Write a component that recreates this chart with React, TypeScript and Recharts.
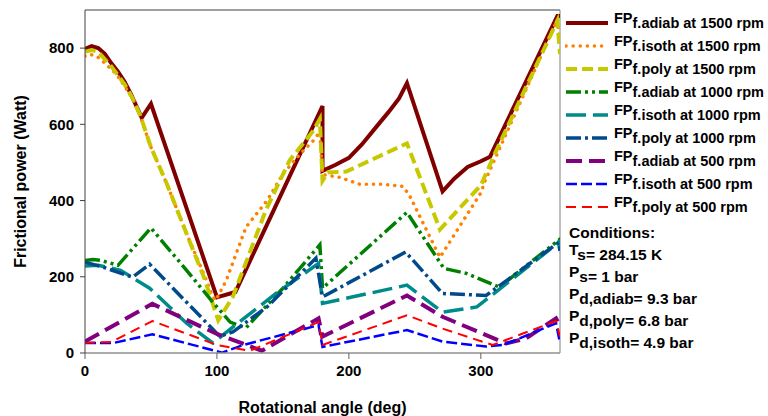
import React from "react";
import { LineChart, Line, XAxis, YAxis, ReferenceLine, Label } from "recharts";

const xTicks = [0, 100, 200, 300];
const yTicks = [0, 200, 400, 600, 800];

// 1500 rpm
const adiab1500Angle = [0, 5, 10, 15, 20, 25, 30, 35, 40, 43, 50, 100, 114, 180, 180, 190, 200, 210, 220, 230, 238, 244, 271, 280, 290, 300, 307, 358, 360];
const adiab1500Power = [798, 805, 800, 785, 760, 738, 712, 678, 640, 617, 654, 146, 160, 648, 478, 494, 512, 548, 590, 632, 668, 708, 424, 458, 488, 503, 515, 884, 884];

const isoth1500Angle = [0, 4, 11, 24, 36, 42, 49, 62, 77, 90, 97, 99, 107, 122, 138, 150, 163, 173, 178, 180, 193, 208, 226, 241, 246, 269, 300, 303, 358, 360];
const isoth1500Power = [779, 784, 774, 731, 669, 622, 548, 444, 313, 208, 147, 138, 190, 330, 400, 470, 522, 557, 580, 468, 461, 443, 443, 437, 413, 251, 420, 450, 875, 800];

const poly1500Angle = [0, 5, 10, 20, 30, 36, 42, 50, 62, 77, 90, 101, 112, 137, 155, 173, 178, 180, 184, 198, 244, 269, 300, 311, 358, 360];
const poly1500Power = [790, 795, 790, 752, 705, 669, 622, 540, 444, 313, 200, 86, 147, 374, 505, 583, 614, 452, 474, 476, 550, 324, 440, 526, 872, 784];

// 1000 rpm
const adiab1000Angle = [0, 6, 12, 25, 50, 77, 97, 110, 122, 150, 178, 180, 244, 272, 289, 314, 359, 360];
const adiab1000Power = [243, 245, 243, 230, 328, 217, 133, 81, 66, 170, 284, 170, 369, 222, 209, 173, 296, 280];

const isoth1000Angle = [0, 10, 27, 49, 77, 97, 112, 145, 177, 180, 244, 271, 297, 359, 360];
const isoth1000Power = [228, 230, 217, 170, 78, 26, 68, 157, 235, 130, 178, 107, 121, 290, 270];

const poly1000Angle = [0, 14, 36, 49, 102, 112, 138, 175, 180, 243, 271, 304, 359, 360];
const poly1000Power = [238, 225, 199, 233, 44, 55, 121, 249, 147, 265, 156, 151, 290, 268];

// 500 rpm
const adiab500Angle = [0, 51, 100, 134, 177, 180, 244, 271, 319, 334, 357, 360];
const adiab500Power = [30, 129, 50, 6, 91, 43, 151, 95, 25, 38, 91, 70];

const isoth500Angle = [0, 21, 51, 104, 120, 177, 180, 244, 271, 304, 317, 357, 360];
const isoth500Power = [26, 26, 49, 1, 21, 73, 16, 60, 30, 17, 21, 78, 26];

const poly500Angle = [0, 20, 51, 100, 125, 177, 180, 244, 271, 309, 357, 360];
const poly500Power = [27, 29, 84, 21, 6, 81, 21, 99, 64, 21, 84, 43];

const toPoints = (angles: number[], power: number[]) =>
  angles.map((angle, i) => ({ angle, power: power[i] }));

const series = [
  { key: "a1500", sub: "f.adiab", rest: " at 1500 rpm", angles: adiab1500Angle, power: adiab1500Power, color: "#800000", width: 4, dash: undefined, cap: "butt" },
  { key: "i1500", sub: "f.isoth", rest: " at 1500 rpm", angles: isoth1500Angle, power: isoth1500Power, color: "#FF8000", width: 3.5, dash: "0.1 7", cap: "round" },
  { key: "p1500", sub: "f.poly", rest: " at 1500 rpm", angles: poly1500Angle, power: poly1500Power, color: "#C8C800", width: 4, dash: "11 5", cap: "butt" },
  { key: "a1000", sub: "f.adiab", rest: " at 1000 rpm", angles: adiab1000Angle, power: adiab1000Power, color: "#008000", width: 3.5, dash: "15 4 3 4 3 4", cap: "butt" },
  { key: "i1000", sub: "f.isoth", rest: " at 1000 rpm", angles: isoth1000Angle, power: isoth1000Power, color: "#008B8B", width: 3.5, dash: "20 7", cap: "butt" },
  { key: "p1000", sub: "f.poly", rest: " at 1000 rpm", angles: poly1000Angle, power: poly1000Power, color: "#004A8C", width: 3.5, dash: "15 4 3 4", cap: "butt" },
  { key: "a500", sub: "f.adiab", rest: " at 500 rpm", angles: adiab500Angle, power: adiab500Power, color: "#800080", width: 4, dash: "16 7", cap: "butt" },
  { key: "i500", sub: "f.isoth", rest: " at 500 rpm", angles: isoth500Angle, power: isoth500Power, color: "#0000FF", width: 2.5, dash: "11 4", cap: "butt" },
  { key: "p500", sub: "f.poly", rest: " at 500 rpm", angles: poly500Angle, power: poly500Power, color: "#FF0000", width: 2, dash: "10 6", cap: "butt" },
];

const conditions = [
  { main: "", sub: "Conditions:" },
  { main: "T", sub: "s= 284.15 K" },
  { main: "P", sub: "s= 1 bar" },
  { main: "P", sub: "d,adiab= 9.3 bar" },
  { main: "P", sub: "d,poly= 6.8 bar" },
  { main: "P", sub: "d,isoth= 4.9 bar" },
];

const font = "'Liberation Sans', Arial, sans-serif";
const tickStyle = { fontSize: 15, fontWeight: 700, fill: "#000", fontFamily: font };
const labelStyle = { fontSize: 16, fontWeight: 700, fill: "#000", fontFamily: font };

export default function App() {
  return (
    <div style={{ position: "relative", width: 768, height: 416, background: "#fff", fontFamily: font }}>
      <style>{"body{margin:0}"}</style>
      <LineChart width={768} height={416} margin={{ top: 10, right: 208, bottom: 0, left: 0 }}>
        <XAxis
          dataKey="angle"
          type="number"
          domain={[0, 360]}
          ticks={xTicks}
          height={63}
          tick={tickStyle}
          tickSize={6}
          tickMargin={6}
          axisLine={{ stroke: "#909090", strokeWidth: 1.5 }}
          tickLine={{ stroke: "#606060" }}
          allowDataOverflow
        >
          <Label value="Rotational angle (deg)" position="insideBottom" offset={3} style={labelStyle} />
        </XAxis>
        <YAxis
          type="number"
          domain={[0, 900]}
          ticks={yTicks}
          width={85}
          tick={tickStyle}
          tickSize={5}
          tickMargin={6}
          axisLine={{ stroke: "#404040" }}
          tickLine={{ stroke: "#404040" }}
          allowDataOverflow
        >
          <Label
            value="Frictional power (Watt)"
            angle={-90}
            position="insideLeft"
            offset={20}
            style={{ ...labelStyle, textAnchor: "middle" }}
          />
        </YAxis>
        <ReferenceLine y={900} stroke="#404040" />
        <ReferenceLine x={360} stroke="#808080" />
        {series.map((s) => (
          <Line
            key={s.key}
            data={toPoints(s.angles, s.power)}
            dataKey="power"
            type="linear"
            stroke={s.color}
            strokeWidth={s.width}
            strokeDasharray={s.dash}
            strokeLinecap={s.cap as any}
            dot={false}
            activeDot={false}
            isAnimationActive={false}
          />
        ))}
      </LineChart>

      <div style={{ position: "absolute", left: 565, top: 11 }}>
        {series.map((s) => (
          <div key={s.key} style={{ display: "flex", alignItems: "center", height: 23, whiteSpace: "nowrap" }}>
            <svg width={44} height={10} style={{ marginRight: 5 }}>
              <line
                x1={1}
                y1={5}
                x2={43}
                y2={5}
                stroke={s.color}
                strokeWidth={s.width}
                strokeDasharray={s.dash}
                strokeLinecap={s.cap as any}
              />
            </svg>
            <span style={{ fontSize: 14.5, fontWeight: 700, color: "#000" }}>
              <span style={{ position: "relative", top: -5 }}>FP</span>
              {s.sub}
              {s.rest}
            </span>
          </div>
        ))}
      </div>

      <div style={{ position: "absolute", left: 569, top: 222 }}>
        {conditions.map((c) => (
          <div key={c.sub} style={{ height: 22, lineHeight: "22px", fontSize: 15.5, fontWeight: 700, color: "#000", whiteSpace: "nowrap" }}>
            {c.main && <span style={{ position: "relative", top: -5 }}>{c.main}</span>}
            {c.sub}
          </div>
        ))}
      </div>
    </div>
  );
}
